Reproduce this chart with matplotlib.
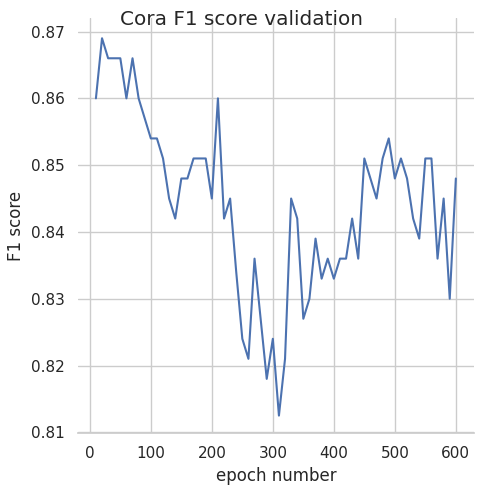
import matplotlib
matplotlib.use("Agg")
import matplotlib.pyplot as plt
import seaborn as sns

epochs = list(range(10, 610, 10))
f1_val = [
    0.860, 0.869, 0.866, 0.866, 0.866, 0.860, 0.866, 0.860, 0.857, 0.854,
    0.854, 0.851, 0.845, 0.842, 0.848, 0.848, 0.851, 0.851, 0.851, 0.845,
    0.860, 0.842, 0.845, 0.834, 0.824, 0.821, 0.836, 0.827, 0.818, 0.824,
    0.8125, 0.821, 0.845, 0.842, 0.827, 0.830, 0.839, 0.833, 0.836, 0.833,
    0.836, 0.836, 0.842, 0.836, 0.851, 0.848, 0.845, 0.851, 0.854, 0.848,
    0.851, 0.848, 0.842, 0.839, 0.851, 0.851, 0.836, 0.845, 0.830, 0.848,
]

sns.set_theme(style="whitegrid")

fig, ax = plt.subplots(figsize=(4.84, 4.92), dpi=100)
ax.plot(epochs, f1_val, color="#4c72b0", linewidth=1.5)
ax.set_xlabel("epoch number")
ax.set_ylabel("F1 score")
ax.set_yticks([0.81, 0.82, 0.83, 0.84, 0.85, 0.86, 0.87])
ax.set_ylim(0.8099, 0.8720)
sns.despine(left=True)
fig.suptitle("Cora F1 score validation")
fig.subplots_adjust(left=0.161, right=0.979, top=0.963, bottom=0.12)
fig.savefig("out.png", dpi=100)
